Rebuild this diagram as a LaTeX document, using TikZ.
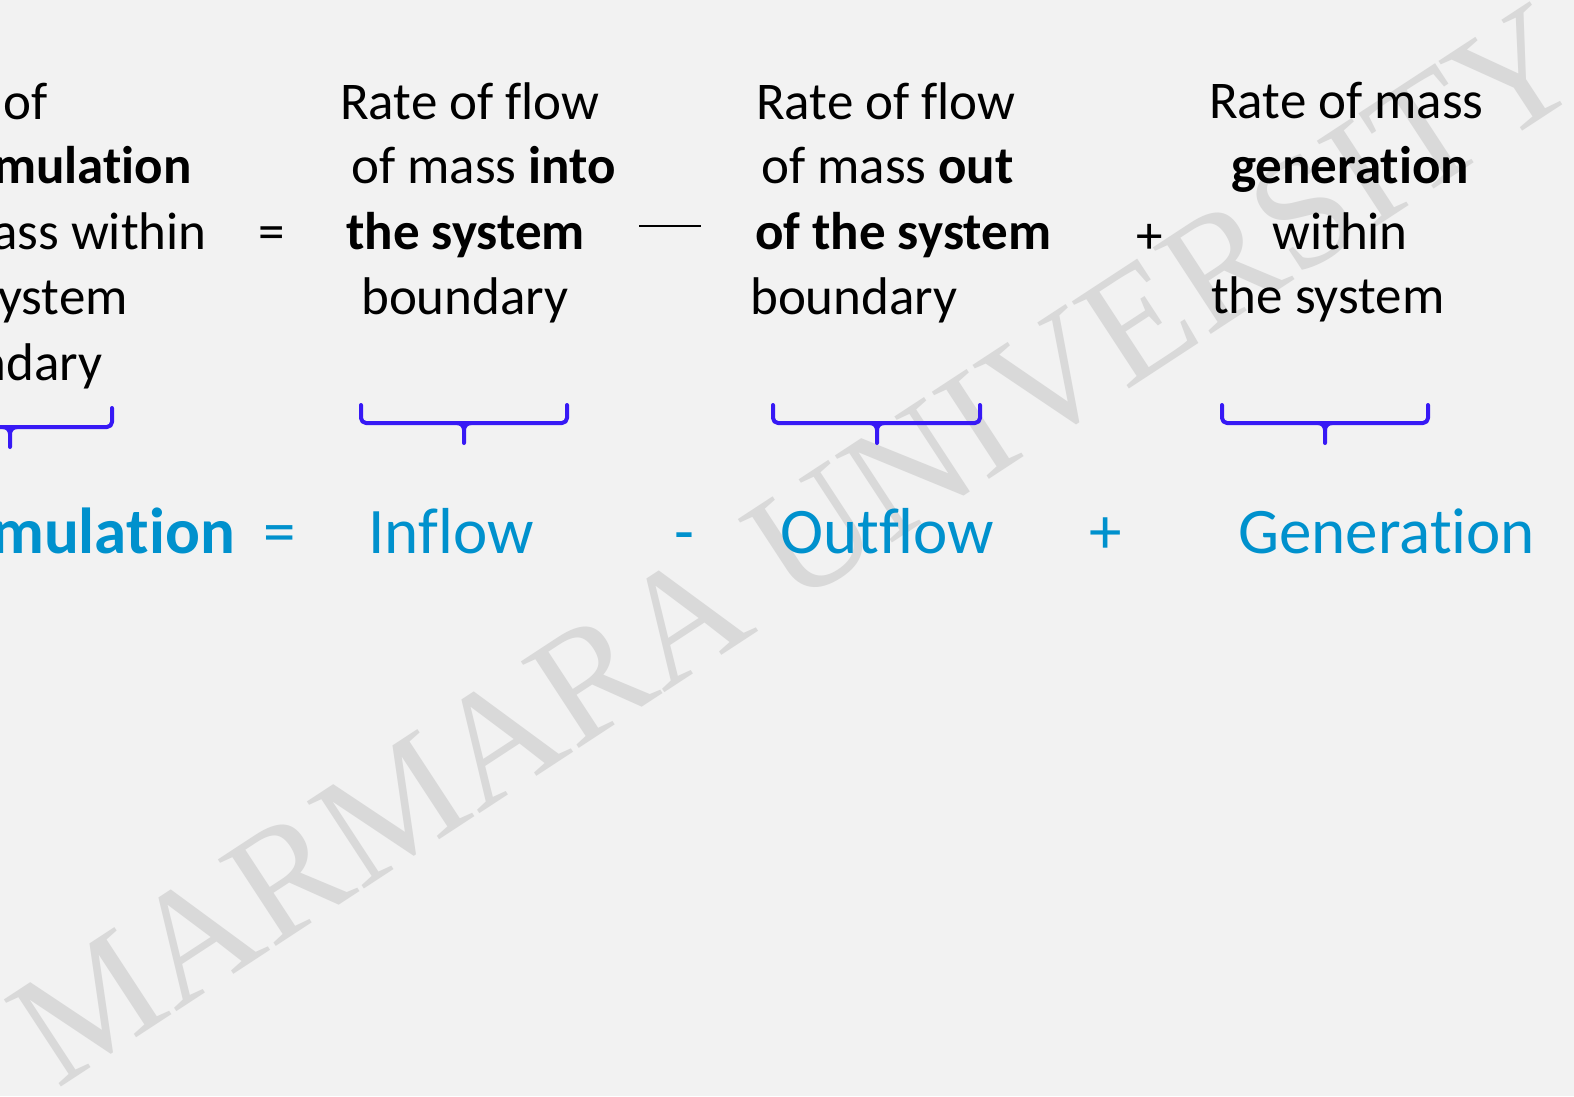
\documentclass[tikz,border=0pt]{standalone}
\usepackage{fontspec}
\setmainfont{Carlito}[Ligatures={NoCommon,NoRare,NoContextual}]
\newfontfamily\wmfont{Liberation Serif}
\definecolor{pagebg}{HTML}{F2F2F2}
\definecolor{wmgray}{HTML}{D9D9D9}
\definecolor{termblue}{RGB}{0,145,205}
\definecolor{bracecol}{RGB}{55,25,245}

% under-brace: left x, right x, top of arms, horizontal y, tip x, tip y
\newcommand\flowbrace[6]{%
  \draw[bracestroke] (#1,#3) -- (#1,#4) -- (#2,#4) -- (#2,#3);
  \draw[bracestroke,rounded corners=0pt] (#5-7,#4) to[out=0,in=90] (#5,#4+7) -- (#5,#6);
  \draw[bracestroke,rounded corners=0pt] (#5+7,#4) to[out=180,in=90] (#5,#4+7);
}

\begin{document}
\begin{tikzpicture}[x=1pt,y=-1pt,
  defn/.style={anchor=base west, inner sep=0pt, font=\fontsize{53}{65}\selectfont, text=black},
  defnR/.style={defn, anchor=base east},
  op/.style={anchor=base, inner sep=0pt, font=\fontsize{53}{65}\selectfont, text=black},
  term/.style={anchor=base west, inner sep=0pt, font=\fontsize{65}{75}\selectfont, text=termblue},
  termop/.style={term, anchor=base},
  bracestroke/.style={draw=bracecol, line width=4pt, line cap=round, line join=round, rounded corners=5pt},
  watermark/.style={anchor=base, inner sep=0pt, rotate=33.2, text=wmgray,
    font=\wmfont\fontsize{159}{159}\selectfont}
]
\useasboundingbox (0,0) rectangle (1574,1096);
\fill[pagebg] (0,0) rectangle (1574,1096);
\clip (0,0) rectangle (1574,1096);

% watermark
\node[watermark] (wm) at (824,588) {MARMARA UNIVERSITY};

% accumulation term
\node[defnR] (a1) at (48,119)  {Rate of};
\node[defnR] (a2) at (192,183) {\textbf{accumulation}};
\node[defnR] (a3) at (207,249) {of mass within};
\node[defnR] (a4) at (128,314) {the system};
\node[defnR] (a5) at (103,380) {boundary};
\node[op] (eq1) at (272,249) {=};

% inflow term
\node[defn] (b1) at (340,119) {Rate of flow};
\node[defn] (b2) at (351,183) {of mass \textbf{into}};
\node[defn] (b3) at (346,249) {\textbf{the system}};
\node[defn] (b4) at (361,314) {boundary};
\draw[line width=1.3pt] (639,226) -- (701,226);

% outflow term
\node[defn] (c1) at (756,119) {Rate of flow};
\node[defn] (c2) at (761,183) {of mass \textbf{out}};
\node[defn] (c3) at (755,249) {\textbf{of the system}};
\node[defn] (c4) at (750,314) {boundary};
\node[op] (pl1) at (1150,253) {+};

% generation term
\node[defn] (d1) at (1209,118) {Rate of mass};
\node[defn] (d2) at (1231,183) {\textbf{generation}};
\node[defn] (d3) at (1272,249) {within};
\node[defn] (d4) at (1211,313) {the system};

% braces
\flowbrace{-92}{112}{408}{427}{10}{447}
\flowbrace{361}{567}{405}{423}{464}{443}
\flowbrace{773}{980}{405}{423}{877}{443}
\flowbrace{1222}{1428}{405}{423}{1325}{443}

% short form
\node[term, anchor=base east] (s1) at (235,553) {\textbf{Accumulation}};
\node[termop] (s2) at (280,553) {=};
\node[term] (s3) at (368,553) {Inflow};
\node[termop] (s4) at (684,553) {-};
\node[term] (s5) at (780,553) {Outflow};
\node[termop] (s6) at (1106,553) {+};
\node[term] (s7) at (1238,553) {Generation};
\end{tikzpicture}
\end{document}
